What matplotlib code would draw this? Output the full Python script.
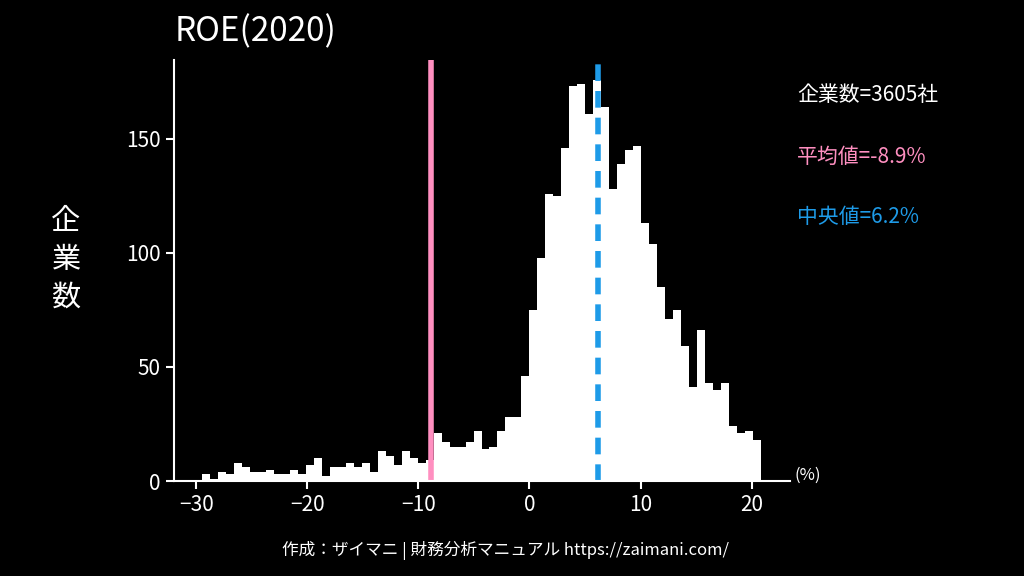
import numpy as np
import matplotlib.pyplot as plt

plt.rcParams['font.family'] = ['Noto Sans CJK JP', 'DejaVu Sans']

# histogram (bin width ~0.72, edges at multiples of it, 0 is an edge)
bin_w = 0.72
first_bin = -41
counts = [3, 1, 4, 3, 8, 6, 4, 4, 5, 3, 3, 5, 3, 7, 10, 2, 6, 6, 8, 6, 8, 4, 13, 11, 7, 13, 10, 8, 9,
          21, 17, 15, 15, 17, 22, 14, 15, 22, 28, 28, 46,
          75, 98, 126, 125, 146, 173, 174, 161, 176, 164, 128, 139, 145, 147, 113, 104, 85, 71, 75,
          59, 41, 66, 43, 40, 43, 24, 21, 22, 18]
edges = (np.arange(len(counts) + 1) + first_bin) * bin_w
n_companies = 3605
mean_v = -8.9
median_v = 6.2

fig = plt.figure(figsize=(10.24, 5.76), dpi=100, facecolor='black')
ax = fig.add_axes([174 / 1024, (576 - 481) / 576, (790 - 174) / 1024, (481 - 60) / 576])
ax.set_facecolor('black')
ax.stairs(counts, edges, fill=True, color='white')
ax.axvline(mean_v, color='#ff8fc0', lw=4)
ax.axvline(median_v, color='#1e9be8', lw=4, ls=(0, (3, 1.8)))

ax.set_xlim(-32.0, 23.45)
ax.set_ylim(0, 184.6)
ax.set_xticks([-30, -20, -10, 0, 10, 20])
ax.set_xticklabels(['−30', '−20', '−10', '0', '10', '20'])
ax.set_yticks([0, 50, 100, 150])
for s in ['top', 'right']:
    ax.spines[s].set_visible(False)
for s in ['left', 'bottom']:
    ax.spines[s].set_color('white')
    ax.spines[s].set_linewidth(1.5)
ax.tick_params(colors='white', labelsize=15, width=1.5, length=6)

fig.text(175 / 1024, 1 - 32 / 576, 'ROE(2020)', color='white', fontsize=24, va='center', ha='left')
for i, ch in enumerate('企業数'):
    fig.text(66 / 1024, 1 - (222 + i * 38) / 576, ch, color='white', fontsize=21, ha='center', va='center')
fig.text(797 / 1024, 1 - 95 / 576, f'企業数={n_companies}社', color='white', fontsize=15, va='center')
fig.text(797 / 1024, 1 - 157 / 576, f'平均値={mean_v}%', color='#ff8fc0', fontsize=15, va='center')
fig.text(797 / 1024, 1 - 217 / 576, f'中央値={median_v}%', color='#1e9be8', fontsize=15, va='center')
fig.text(795 / 1024, 1 - 475 / 576, '(%)', color='white', fontsize=12, va='center')
fig.text(505 / 1024, 1 - 550 / 576, '作成：ザイマニ | 財務分析マニュアル https://zaimani.com/',
         color='white', fontsize=12, ha='center', va='center')

fig.savefig('out.png', dpi=100, facecolor='black')
